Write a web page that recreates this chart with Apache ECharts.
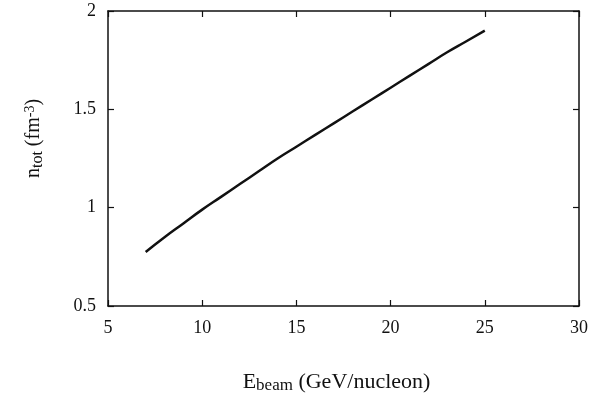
<!DOCTYPE html>
<html>
<head>
<meta charset="utf-8">
<script src="https://cdn.jsdelivr.net/npm/echarts@6/dist/echarts.min.js"></script>
<style>
  html, body { margin: 0; padding: 0; background: #fff; }
  #chart { width: 591px; height: 402px; }
</style>
</head>
<body>
<div id="chart"></div>
<script>
// beam energy (GeV/nucleon) and total density (fm^-3)
var ebeam = [7, 8, 9, 10, 11, 12, 13, 14, 15, 16, 17, 18, 19, 20, 21, 22, 23, 24, 25];
var ntot = [0.775, 0.85, 0.92, 0.99, 1.055, 1.12, 1.185, 1.25, 1.31, 1.37, 1.43, 1.49, 1.55, 1.61, 1.67, 1.73, 1.79, 1.845, 1.9];

var myChart = echarts.init(document.getElementById("chart"));
var font = "'Liberation Serif', 'DejaVu Serif', serif";
var black = "#111";

function axisBase(show) {
  return {
    axisLine: { show: true, lineStyle: { color: black, width: 1.5 } },
    axisTick: { show: true, inside: true, length: 6, lineStyle: { color: black, width: 1.2 } },
    splitLine: { show: false },
    axisLabel: { show: show, color: black, fontFamily: font, fontSize: 18 },
  };
}

var xMain = axisBase(true);
xMain.type = "value";
xMain.min = 5;
xMain.max = 30;
xMain.interval = 5;
xMain.axisLabel.margin = 13;
xMain.name = "{m|E}{s|beam}{m| (GeV/nucleon)}";
xMain.nameLocation = "middle";
xMain.nameGap = 63;
xMain.nameTextStyle = {
  color: black,
  fontFamily: font,
  padding: [0, 14, 0, 0],
  rich: {
    m: { fontFamily: font, fontSize: 22, color: black, lineHeight: 26 },
    s: { fontFamily: font, fontSize: 17, color: black, lineHeight: 26, padding: [7, 0, 0, 0] },
  },
};

var xTop = axisBase(false);
xTop.type = "value";
xTop.position = "top";
xTop.min = 5;
xTop.max = 30;
xTop.interval = 5;

var yMain = axisBase(true);
yMain.type = "value";
yMain.min = 0.5;
yMain.max = 2;
yMain.interval = 0.5;
yMain.axisLabel.margin = 12;
yMain.name = "{m|n}{s|tot}{m| (fm}{p|-3}{m|)}";
yMain.nameLocation = "middle";
yMain.nameRotate = 90;
yMain.nameGap = 62;
yMain.nameTextStyle = {
  color: black,
  fontFamily: font,
  padding: [0, 0, 0, 40],
  rich: {
    m: { fontFamily: font, fontSize: 20, color: black, lineHeight: 24 },
    s: { fontFamily: font, fontSize: 16, color: black, lineHeight: 24, padding: [7, 0, 0, 0] },
    p: { fontFamily: font, fontSize: 14, color: black, lineHeight: 24, padding: [0, 0, 8, 0] },
  },
};

var yRight = axisBase(false);
yRight.type = "value";
yRight.position = "right";
yRight.min = 0.5;
yRight.max = 2;
yRight.interval = 0.5;

const option = {
  backgroundColor: "#fff",
  animation: false,
  grid: { left: 108, right: 8, top: 11, bottom: 96 },
  xAxis: [xMain, xTop],
  yAxis: [yMain, yRight],
  series: [
    {
      type: "line",
      xAxisIndex: 0,
      yAxisIndex: 0,
      data: ebeam.map(function (e, i) { return [e, ntot[i]]; }),
      showSymbol: false,
      smooth: true,
      lineStyle: { color: black, width: 2.5 },
    },
  ],
};
myChart.setOption(option);
</script>
</body>
</html>
